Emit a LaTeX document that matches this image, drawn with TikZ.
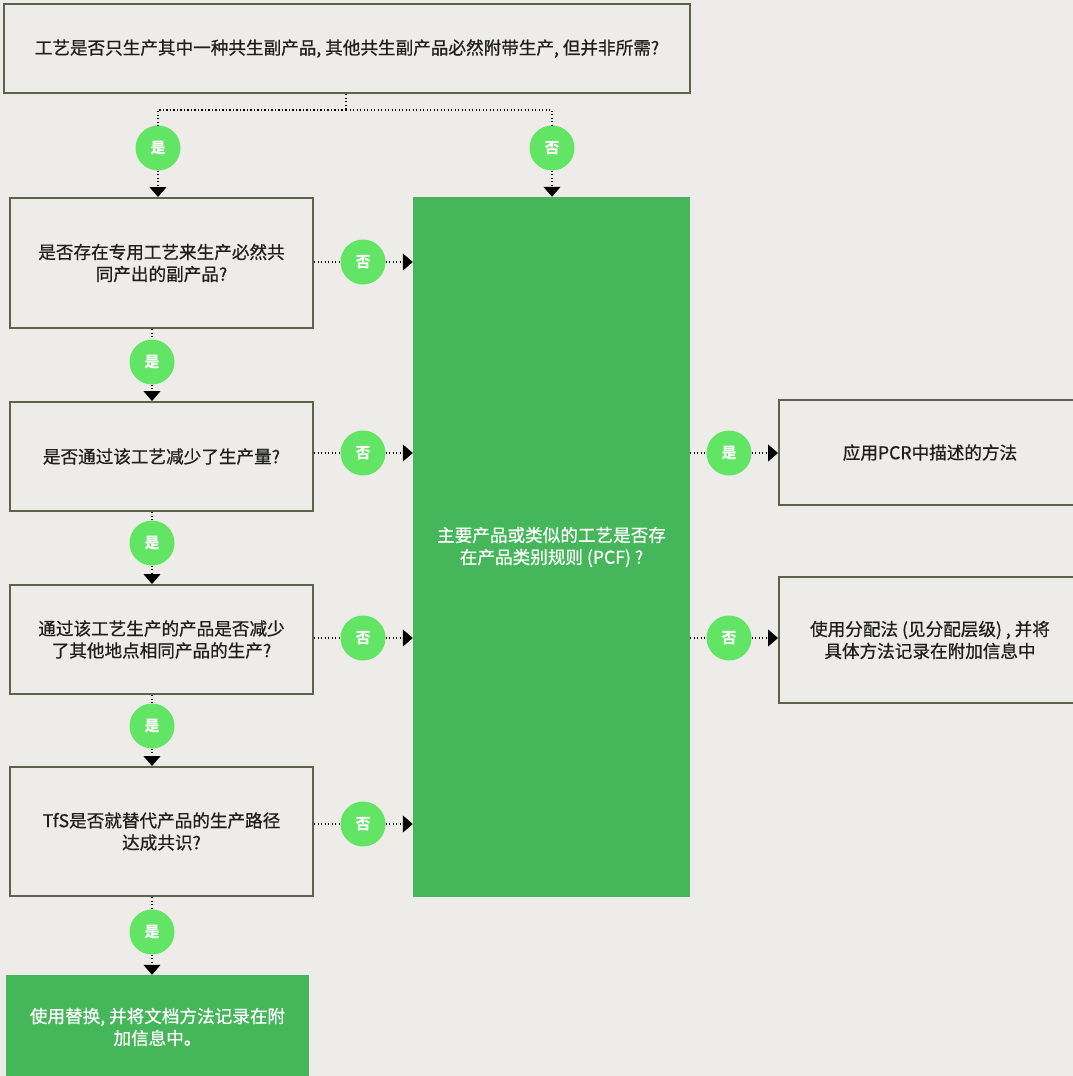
\documentclass[tikz,border=0pt]{standalone}
\usepackage{fontspec}
\setmainfont{Noto Sans CJK SC}
\newfontfamily\medfont{Noto Sans CJK SC}[FakeBold=0.7]
\usetikzlibrary{arrows.meta}
\definecolor{bgc}{HTML}{EDECE8}
\definecolor{boxc}{HTML}{5B6449}
\definecolor{txtc}{HTML}{1E1E1E}
\definecolor{bigg}{HTML}{46B65B}
\definecolor{circg}{HTML}{62E464}
\newcommand\boxfs{\medfont\fontsize{17.6}{22}\selectfont}
\newcommand\circfs{\fontsize{15}{16}\selectfont\bfseries}
\begin{document}
\begin{tikzpicture}[x=1pt,y=-1pt,
  qbox/.style={draw=boxc, line width=2pt, fill=bgc, align=center, font=\boxfs, text=txtc, inner sep=0pt},
  gbox/.style={fill=bigg, align=center, font=\boxfs, text=white, inner sep=0pt},
  yn/.style={circle, fill=circg, minimum size=45pt, inner sep=0pt, font=\circfs, text=white},
  dots/.style={line width=1.1pt, dash pattern=on 1.1pt off 2.4pt},
  arr/.style={dots, -{Triangle[length=10pt,width=17pt]}}]
\fill[bgc] (0,0) rectangle (1073,1076);
\useasboundingbox (0,0) rectangle (1073,1076);
% boxes
\node[qbox, minimum width=686pt, minimum height=89pt] (top) at (347,48.5) {工艺是否只生产其中一种共生副产品, 其他共生副产品必然附带生产, 但并非所需?};
\node[qbox, minimum width=303pt, minimum height=130pt] (b2) at (161.5,263) {是否存在专用工艺来生产必然共\\同产出的副产品?};
\node[qbox, minimum width=303pt, minimum height=109pt] (b3) at (161.5,456.5) {是否通过该工艺减少了生产量?};
\node[qbox, minimum width=303pt, minimum height=109pt] (b4) at (161.5,639.5) {通过该工艺生产的产品是否减少\\了其他地点相同产品的生产?};
\node[qbox, minimum width=303pt, minimum height=129pt] (b5) at (161.5,831.5) {TfS是否就替代产品的生产路径\\达成共识?};
\node[gbox, minimum width=303pt, minimum height=104pt] (sub) at (157.5,1027) {使用替换, 并将文档方法记录在附\\加信息中。};
\node[gbox, minimum width=277pt, minimum height=700pt] (big) at (551.5,547) {主要产品或类似的工艺是否存\\在产品类别规则 (PCF) ?};
\node[qbox, minimum width=302pt, minimum height=105pt] (r1) at (930,452.5) {应用PCR中描述的方法};
\node[qbox, minimum width=302pt, minimum height=126pt] (r2) at (930,640) {使用分配法 (见分配层级) , 并将\\具体方法记录在附加信息中};
% circles
\node[yn] (y1) at (158,148) {是};
\node[yn] (n1) at (552,148) {否};
\node[yn] (y2) at (152,362) {是};
\node[yn] (n2) at (363,262) {否};
\node[yn] (y3) at (152,543) {是};
\node[yn] (n3) at (363,453) {否};
\node[yn] (y4) at (152,726) {是};
\node[yn] (n4) at (363,638) {否};
\node[yn] (y5) at (152,932) {是};
\node[yn] (n5) at (363,824) {否};
\node[yn] (ry) at (729,453) {是};
\node[yn] (rn) at (729,638) {否};
% top split
\coordinate (split) at (346,110);
\draw[dots] (top.south -| split) -- (split);
\draw[dots] (split) -| (y1);
\draw[dots] (split) -| (n1);
\draw[arr] (y1) -- (y1 |- b2.north);
\draw[arr] (n1) -- (n1 |- big.north);
% yes chain
\draw[dots] (b2.south -| y2) -- (y2);
\draw[arr] (y2) -- (y2 |- b3.north);
\draw[dots] (b3.south -| y3) -- (y3);
\draw[arr] (y3) -- (y3 |- b4.north);
\draw[dots] (b4.south -| y4) -- (y4);
\draw[arr] (y4) -- (y4 |- b5.north);
\draw[dots] (b5.south -| y5) -- (y5);
\draw[arr] (y5) -- (y5 |- sub.north);
% no branches
\draw[dots] (b2.east |- n2) -- (n2);
\draw[arr] (n2) -- (n2 -| big.west);
\draw[dots] (b3.east |- n3) -- (n3);
\draw[arr] (n3) -- (n3 -| big.west);
\draw[dots] (b4.east |- n4) -- (n4);
\draw[arr] (n4) -- (n4 -| big.west);
\draw[dots] (b5.east |- n5) -- (n5);
\draw[arr] (n5) -- (n5 -| big.west);
% right
\draw[dots] (big.east |- ry) -- (ry);
\draw[arr] (ry) -- (ry -| r1.west);
\draw[dots] (big.east |- rn) -- (rn);
\draw[arr] (rn) -- (rn -| r2.west);
\end{tikzpicture}
\end{document}
